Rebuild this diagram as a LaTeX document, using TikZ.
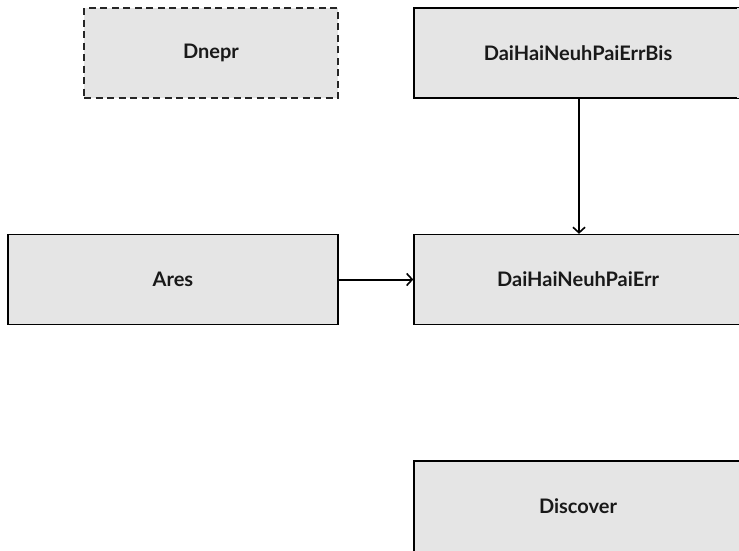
\documentclass[tikz,border=0pt]{standalone}
\usepackage{fontspec}
\setmainfont{Lato}
\usetikzlibrary{arrows.meta}
\definecolor{boxfill}{HTML}{E5E5E5}
\tikzset{
  x=1pt, y=1pt,
  box/.style={draw=black, fill=boxfill, line width=1.4pt, rectangle, inner sep=0pt,
    minimum height=90pt, font=\fontsize{20}{24}\selectfont\bfseries, text=black!90},
  dashedbox/.style={box, dash pattern=on 7pt off 4.5pt, draw=black!85},
  conn/.style={line width=2pt, -{Straight Barb[length=5.5pt, width=12pt, line width=1.6pt]}}
}
\begin{document}
\begin{tikzpicture}
\useasboundingbox (0,-550) rectangle (739,0);
\clip (0,-550) rectangle (739,0);
\node[dashedbox, minimum width=254pt] (dnepr) at (211,-53) {Dnepr};
\node[box, minimum width=328pt] (bis) at (578,-53) {DaiHaiNeuhPaiErrBis};
\node[box, minimum width=330pt] (ares) at (173,-279.5) {Ares};
\node[box, minimum width=328pt] (err) at (578,-279.5) {DaiHaiNeuhPaiErr};
\node[box, minimum width=328pt] (disc) at (578,-506) {Discover};
\fill[boxfill] (737,-8) rectangle (745,-98);
\fill[boxfill] (737,-235) rectangle (745,-324);
\fill[boxfill] (737,-462) rectangle (745,-552);
\fill[boxfill] (415,-549) rectangle (745,-553);
\draw[conn] (bis.south -| 579,0) -- (err.north -| 579,0);
\draw[conn] (ares) -- (err);
\end{tikzpicture}
\end{document}
